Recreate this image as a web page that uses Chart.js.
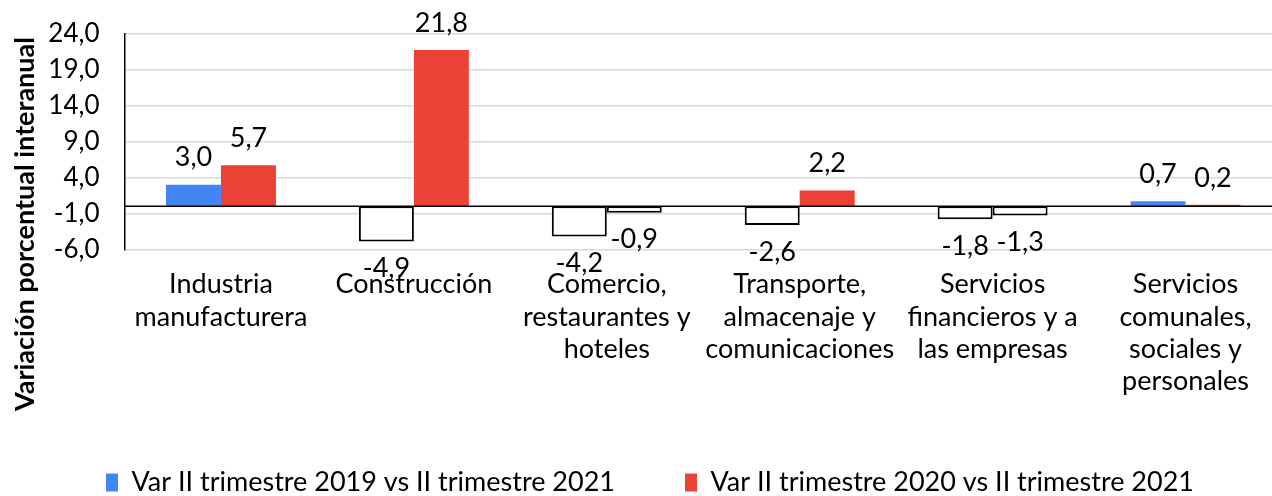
<!DOCTYPE html>
<html lang="es">
<head>
<meta charset="utf-8">
<title>Variación porcentual interanual</title>
<script src="https://cdn.jsdelivr.net/npm/chart.js@4.4.1/dist/chart.umd.min.js"></script>
<style>
  html, body { margin: 0; padding: 0; background: #fff; overflow: hidden; }
  #wrap { width: 1272px; height: 496px; overflow: hidden; position: relative; }
  #box { width: 1290px; height: 506px; }
</style>
</head>
<body>
<div id="wrap"><div id="box"><canvas id="chart"></canvas></div></div>
<script>
var categorias = [
  ['Industria', 'manufacturera'],
  'Construcción',
  ['Comercio,', 'restaurantes y', 'hoteles'],
  ['Transporte,', 'almacenaje y', 'comunicaciones'],
  ['Servicios', 'financieros y a', 'las empresas'],
  ['Servicios', 'comunales,', 'sociales y', 'personales']
];

var var2019 = [3.0, -4.9, -4.2, -2.6, -1.8, 0.7];

var var2020 = [5.7, 21.8, -0.9, 2.2, -1.3, 0.2];

var ticksY = [-6, -1, 4, 9, 14, 19, 24];

var series = ['Var II trimestre 2019 vs II trimestre 2021', 'Var II trimestre 2020 vs II trimestre 2021'];

function formato(v) {
  return v.toFixed(1).replace('.', ',');
}

// negative bars are drawn white with a black outline
function relleno(color) {
  return function (ctx) { return ctx.raw < 0 ? '#ffffff' : color; };
}
function borde(color) {
  return function (ctx) { return ctx.raw < 0 ? '#000000' : color; };
}
function grosor(ctx) {
  return ctx.raw < 0 ? 2 : 0;
}

var lineaCero = {
  id: 'lineaCero',
  afterDatasetsDraw: function (chart) {
    var ctx = chart.ctx, area = chart.chartArea;
    var y = chart.scales.y.getPixelForValue(0);
    ctx.save();
    ctx.strokeStyle = '#000';
    ctx.lineWidth = 1.5;
    ctx.beginPath();
    ctx.moveTo(area.left, y);
    ctx.lineTo(area.right, y);
    ctx.stroke();
    ctx.restore();
  }
};

var etiquetasDatos = {
  id: 'etiquetasDatos',
  afterDatasetsDraw: function (chart) {
    var ctx = chart.ctx;
    ctx.save();
    ctx.font = '27px Lato';
    ctx.fillStyle = '#000';
    ctx.textAlign = 'center';
    ctx.textBaseline = 'middle';
    chart.data.datasets.forEach(function (ds, i) {
      chart.getDatasetMeta(i).data.forEach(function (bar, j) {
        var v = ds.data[j];
        var y = v < 0 ? bar.y + 27 : bar.y - 27;
        ctx.fillText(formato(v), bar.x, y);
      });
    });
    ctx.restore();
  }
};

var tituloY = {
  id: 'tituloY',
  afterDraw: function (chart) {
    var ctx = chart.ctx;
    ctx.save();
    ctx.translate(25, 224);
    ctx.rotate(-Math.PI / 2);
    ctx.font = 'bold 27px Lato';
    ctx.fillStyle = '#000';
    ctx.textAlign = 'center';
    ctx.textBaseline = 'middle';
    ctx.fillText('Variación porcentual interanual', 0, 0);
    ctx.restore();
  }
};

// nudge the legend a little to the right, like the original
var moverLeyenda = {
  id: 'moverLeyenda',
  afterLayout: function (chart) {
    if (chart.legend) {
      chart.legend.left += 9;
      chart.legend.right += 9;
    }
  }
};

var chart = new Chart(
  document.getElementById('chart'),
  {
    type: 'bar',
    data: {
      labels: categorias,
      datasets: [
        {
          label: series[0],
          data: var2019,
          backgroundColor: relleno('#4285F4'),
          borderColor: borde('#4285F4'),
          borderWidth: grosor,
          borderSkipped: false
        },
        {
          label: series[1],
          data: var2020,
          backgroundColor: relleno('#EA4335'),
          borderColor: borde('#EA4335'),
          borderWidth: grosor,
          borderSkipped: false
        }
      ]
    },
    options: {
      responsive: true,
      maintainAspectRatio: false,
      animation: false,
      datasets: {
        bar: { categoryPercentage: 0.57, barPercentage: 1.0 }
      },
      layout: { padding: { top: 20, right: 8, bottom: 0, left: 0 } },
      plugins: {
        tooltip: { enabled: false },
        legend: {
          position: 'bottom',
          labels: {
            boxWidth: 12,
            boxHeight: 18,
            padding: 70,
            color: '#000',
            font: { family: 'Lato', size: 27 }
          }
        }
      },
      scales: {
        x: {
          afterFit: function (scale) { scale.height = 149.7; },
          grid: { display: false, drawTicks: false },
          border: { display: false },
          ticks: {
            color: '#000',
            font: { family: 'Lato', size: 27 },
            padding: 19,
            autoSkip: false,
            maxRotation: 0
          }
        },
        y: {
          min: ticksY[0],
          max: ticksY[ticksY.length - 1],
          afterFit: function (scale) { scale.width = 124.5; },
          grid: { color: '#d9d9d9', lineWidth: 1.5, drawTicks: false },
          border: { color: '#000', width: 1.5 },
          ticks: {
            stepSize: 5,
            padding: 25,
            color: '#000',
            font: { family: 'Lato', size: 26, lineHeight: 0.7 },
            callback: function (v) { return formato(v); }
          }
        }
      }
    },
    plugins: [lineaCero, etiquetasDatos, tituloY, moverLeyenda]
  }
);
</script>
</body>
</html>
